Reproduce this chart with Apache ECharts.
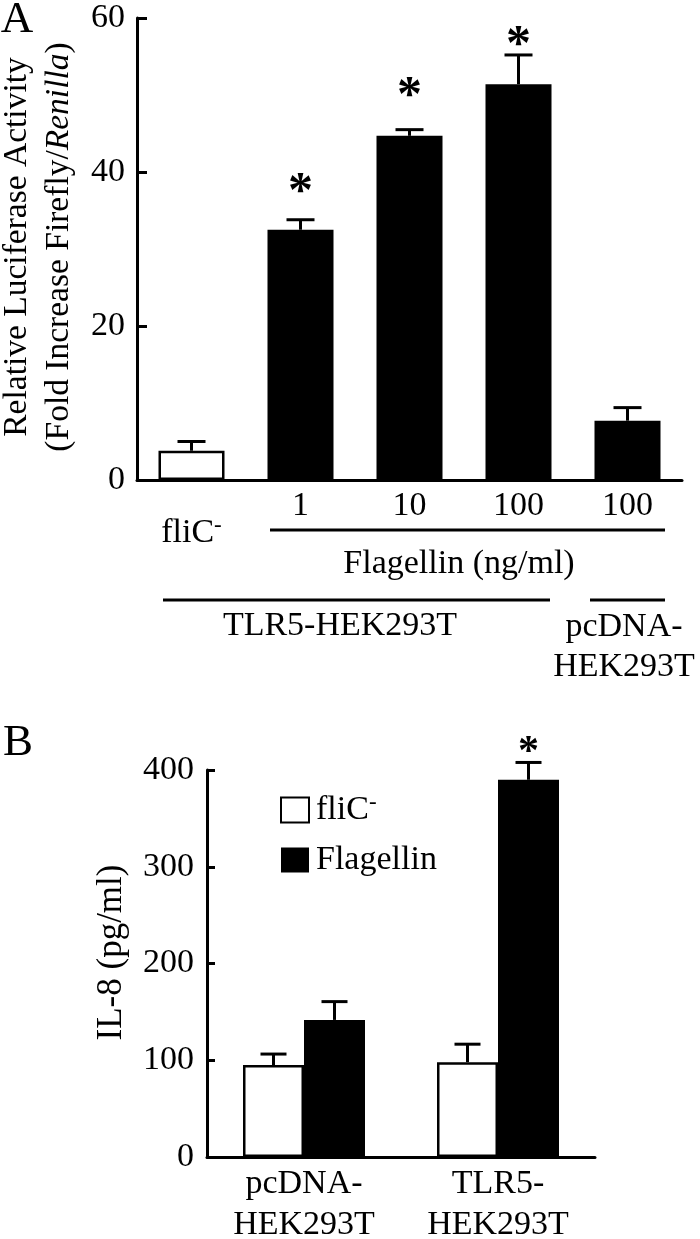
<!DOCTYPE html>
<html>
<head>
<meta charset="utf-8">
<script src="https://cdn.jsdelivr.net/npm/echarts@6/dist/echarts.min.js"></script>
<style>
html,body{margin:0;padding:0;background:#fff;}
#chart{width:700px;height:1239px;}
</style>
</head>
<body>
<div id="chart"></div>
<script>
// ---- Panel A data ----
const catsA = ['fliC-', '1', '10', '100', '100'];
const meanA = [3.8, 32.5, 44.7, 51.4, 7.7];
const errA  = [1.2, 1.3, 0.8, 3.8, 1.7];
const starA = [null, 38.6, 51.0, 57.7, null];
const ticksA = [0, 20, 40, 60];

// ---- Panel B data ----
const catsB = ['pcDNA-\nHEK293T', 'TLR5-\nHEK293T'];
const seriesNamesB = ['fliC-', 'Flagellin'];
const fliB   = [95, 98];
const errFliB = [11.4, 18.6];
const flaB   = [141.7, 389.9];
const errFlaB = [18.9, 17.9];
const starB  = [null, 425.6];
const ticksB = [0, 100, 200, 300, 400];

const FF = '"Liberation Serif", "Times New Roman", serif';
const BLACK = '#000';
const FS = 34;

function errRender(halfCap, offsetPx) {
  return function (params, api) {
    const i = api.value(0), m = api.value(1), e = api.value(2);
    const off = (api.value(3) || 0) * offsetPx;
    const b = api.coord([i, m]);
    const t = api.coord([i, m + e]);
    const x = b[0] + off;
    return {
      type: 'group',
      children: [
        { type: 'line', shape: { x1: x, y1: b[1], x2: x, y2: t[1] }, style: { stroke: BLACK, lineWidth: 3 } },
        { type: 'line', shape: { x1: x - halfCap, y1: t[1], x2: x + halfCap, y2: t[1] }, style: { stroke: BLACK, lineWidth: 3 } }
      ]
    };
  };
}
function starRender(fontSize, offsetPx, dy) {
  return function (params, api) {
    const i = api.value(0), v = api.value(1);
    const off = (api.value(2) || 0) * offsetPx;
    const p = api.coord([i, v]);
    return {
      type: 'text',
      style: { text: '*', x: p[0] + off, y: p[1] + dy, fill: BLACK, fontSize: fontSize, fontFamily: FF, fontWeight: 'bold', align: 'center', verticalAlign: 'middle' }
    };
  };
}

const errDataA = meanA.map((v, i) => [i, v, errA[i], 0]);
const starDataA = [];
starA.forEach((v, i) => { if (v != null) starDataA.push([i, v, 0]); });

const errDataB = [];
fliB.forEach((v, i) => errDataB.push([i, v, errFliB[i], -1]));
flaB.forEach((v, i) => errDataB.push([i, v, errFlaB[i], 1]));
const starDataB = [];
starB.forEach((v, i) => { if (v != null) starDataB.push([i, v, 1]); });

const supRich = {
  a: { fontSize: FS, fontFamily: FF, color: BLACK, lineHeight: 38 },
  s: { fontSize: 23, fontFamily: FF, color: BLACK, lineHeight: 23, verticalAlign: 'top' }
};

const chart = echarts.init(document.getElementById('chart'), null, { renderer: 'canvas' });
const option = {
  animation: false,
  backgroundColor: '#fff',
  textStyle: { fontFamily: FF, color: BLACK },
  grid: [
    { left: 137, right: 18, top: 18, bottom: 759, containLabel: false, outerBoundsMode: 'none' },
    { left: 207, right: 105, top: 770, bottom: 82, containLabel: false, outerBoundsMode: 'none' }
  ],
  legend: {
    data: seriesNamesB,
    orient: 'vertical',
    left: 280,
    top: 791,
    padding: 0,
    itemWidth: 28,
    itemHeight: 25,
    itemGap: 12,
    icon: 'rect',
    selectedMode: false,
    formatter: n => n === 'fliC-' ? '{a|fliC}{s|-}' : '{a|' + n + '}',
    textStyle: { fontSize: FS, fontFamily: FF, color: BLACK, lineHeight: 38, padding: [0, 0, 0, 2], rich: supRich }
  },
  xAxis: [
    {
      gridIndex: 0, type: 'category',
      data: catsA.map((c, i) => i === 0 ? { value: c, textStyle: { padding: [27, 0, 0, 0] } } : c),
      axisLine: { lineStyle: { color: BLACK, width: 3 } },
      axisTick: { inside: true, length: 10, lineStyle: { color: BLACK, width: 3 } },
      axisLabel: {
        interval: 0, hideOverlap: false,
        fontSize: FS, fontFamily: FF, color: BLACK, margin: 7,
        formatter: v => v === 'fliC-' ? '{a|fliC}{s|-}' : '{a|' + v + '}',
        rich: supRich
      }
    },
    {
      gridIndex: 1, type: 'category', data: catsB,
      axisLine: { lineStyle: { color: BLACK, width: 3 } },
      axisTick: { inside: true, length: 8, lineStyle: { color: BLACK, width: 3 } },
      axisLabel: { interval: 0, fontSize: FS, fontFamily: FF, color: BLACK, margin: 7, lineHeight: 41 }
    }
  ],
  yAxis: [
    {
      gridIndex: 0, type: 'value', min: ticksA[0], max: ticksA[ticksA.length - 1], interval: ticksA[1] - ticksA[0],
      axisLine: { show: true, lineStyle: { color: BLACK, width: 3 } },
      axisTick: { show: true, inside: true, length: 10, lineStyle: { color: BLACK, width: 3 } },
      splitLine: { show: false },
      axisLabel: { fontSize: FS, fontFamily: FF, color: BLACK, margin: 12 },
      name: 'Relative Luciferase Activity\n(Fold Increase Firefly/{i|Renilla})',
      nameLocation: 'middle', nameRotate: 90, nameGap: 54,
      nameTextStyle: {
        fontSize: 33.5, fontFamily: FF, color: BLACK, lineHeight: 42, padding: [0, 0, 0, 4],
        rich: { i: { fontSize: 33.5, fontFamily: FF, color: BLACK, fontStyle: 'italic', lineHeight: 42 } }
      }
    },
    {
      gridIndex: 1, type: 'value', min: ticksB[0], max: ticksB[ticksB.length - 1], interval: ticksB[1] - ticksB[0],
      axisLine: { show: true, lineStyle: { color: BLACK, width: 3 } },
      axisTick: { show: true, inside: true, length: 8, lineStyle: { color: BLACK, width: 3 } },
      splitLine: { show: false },
      axisLabel: { fontSize: FS, fontFamily: FF, color: BLACK, margin: 13 },
      name: 'IL-8 (pg/ml)',
      nameLocation: 'middle', nameRotate: 90, nameGap: 78,
      nameTextStyle: { fontSize: 35, fontFamily: FF, color: BLACK, padding: [0, 0, 0, 22] }
    }
  ],
  series: [
    {
      name: 'A', type: 'bar', xAxisIndex: 0, yAxisIndex: 0, barWidth: 66,
      data: meanA.map((v, i) => i === 0
        ? { value: v, itemStyle: { color: '#fff', borderColor: BLACK, borderWidth: 2.5 } }
        : { value: v, itemStyle: { color: BLACK } }),
      z: 2
    },
    {
      name: 'errA', type: 'custom', xAxisIndex: 0, yAxisIndex: 0,
      renderItem: errRender(14, 0), data: errDataA, encode: { x: 0, y: 1 }, z: 3
    },
    {
      name: 'starA', type: 'custom', xAxisIndex: 0, yAxisIndex: 0,
      renderItem: starRender(50, 0, 10), data: starDataA, encode: { x: 0, y: 1 }, z: 3
    },
    {
      name: 'fliC-', type: 'bar', xAxisIndex: 1, yAxisIndex: 1, barWidth: 61, barGap: '0%',
      itemStyle: { color: '#fff', borderColor: BLACK, borderWidth: 2.5 },
      data: fliB, z: 2
    },
    {
      name: 'Flagellin', type: 'bar', xAxisIndex: 1, yAxisIndex: 1, barWidth: 61, barGap: '0%',
      itemStyle: { color: BLACK },
      data: flaB, z: 2
    },
    {
      name: 'errB', type: 'custom', xAxisIndex: 1, yAxisIndex: 1,
      renderItem: errRender(13, 30.5), data: errDataB, encode: { x: 0, y: 1 }, z: 3
    },
    {
      name: 'starB', type: 'custom', xAxisIndex: 1, yAxisIndex: 1,
      renderItem: starRender(42, 30.5, 8), data: starDataB, encode: { x: 0, y: 1 }, z: 3
    }
  ],
  graphic: [
    { type: 'text', style: { text: 'A', x: 17, y: 20, fontSize: 45, fontFamily: FF, fill: BLACK, align: 'center', verticalAlign: 'middle' } },
    { type: 'text', style: { text: 'B', x: 18, y: 743, fontSize: 45, fontFamily: FF, fill: BLACK, align: 'center', verticalAlign: 'middle' } },
    { type: 'line', shape: { x1: 270, y1: 530, x2: 665, y2: 530 }, style: { stroke: BLACK, lineWidth: 3 } },
    { type: 'text', style: { text: 'Flagellin (ng/ml)', x: 459, y: 564, fontSize: FS, fontFamily: FF, fill: BLACK, align: 'center', verticalAlign: 'middle' } },
    { type: 'line', shape: { x1: 163, y1: 600, x2: 550, y2: 600 }, style: { stroke: BLACK, lineWidth: 3 } },
    { type: 'text', style: { text: 'TLR5-HEK293T', x: 340, y: 626, fontSize: FS, fontFamily: FF, fill: BLACK, align: 'center', verticalAlign: 'middle' } },
    { type: 'line', shape: { x1: 590, y1: 600, x2: 665, y2: 600 }, style: { stroke: BLACK, lineWidth: 3 } },
    { type: 'text', style: { text: 'pcDNA-\nHEK293T', x: 624, y: 647, fontSize: FS, lineHeight: 40, fontFamily: FF, fill: BLACK, align: 'center', verticalAlign: 'middle' } }
  ]
};
chart.setOption(option);
</script>
</body>
</html>
